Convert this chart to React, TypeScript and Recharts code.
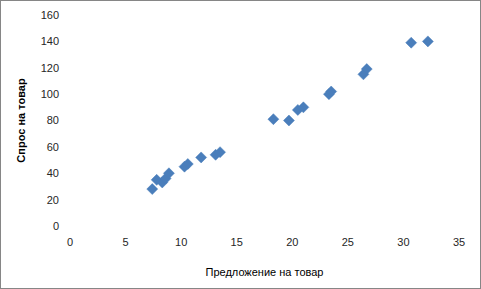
import { ScatterChart, Scatter, XAxis, YAxis } from 'recharts';

const supply = [7.4, 7.8, 8.3, 8.6, 8.9, 10.3, 10.6, 11.8, 13.1, 13.5, 18.3, 19.7, 20.5, 21.0, 23.3, 23.5, 26.4, 26.7, 30.7, 32.2];
const demand = [28, 35, 33, 36, 40, 45, 47, 52, 54, 56, 81, 80, 88, 90, 100, 102, 115, 119, 139, 140];
const xTicks = [0, 5, 10, 15, 20, 25, 30, 35];
const yTicks = [0, 20, 40, 60, 80, 100, 120, 140, 160];

const points = supply.map((x, i) => ({ x, y: demand[i] }));

const font = '"Liberation Sans", Arial, sans-serif';

// excel style diamond marker
const Diamond = (props: any) => {
  const { cx, cy } = props;
  const r = 5.5;
  return (
    <polygon
      points={`${cx},${cy - r} ${cx + r},${cy} ${cx},${cy + r} ${cx - r},${cy}`}
      fill='#4a7ebb'
      stroke='#4a7ebb'
      strokeWidth={0.5}
    />
  );
};

export default function App() {
  return (
    <div
      style={{
        position: 'fixed',
        left: 0,
        top: 0,
        width: 481,
        height: 289,
        border: '1px solid #868686',
        boxSizing: 'border-box',
        background: '#fff',
      }}
    >
      <ScatterChart
        width={479}
        height={287}
        margin={{ top: 14, right: 21, bottom: 0, left: 0 }}
        style={{ fontFamily: font }}
      >
        <XAxis
          type='number'
          dataKey='x'
          domain={[0, 35]}
          ticks={xTicks}
          axisLine={false}
          tickLine={false}
          tickSize={0}
          tickMargin={12}
          height={62}
          tick={{ fontSize: 11, fill: '#262626' }}
          label={{
            value: 'Предложение на товар',
            position: 'insideBottom',
            offset: 12,
            style: { fontSize: 11, fill: '#000' },
          }}
        />
        <YAxis
          type='number'
          dataKey='y'
          domain={[0, 160]}
          ticks={yTicks}
          axisLine={false}
          tickLine={false}
          tickSize={0}
          tickMargin={11}
          width={69}
          tick={{ fontSize: 11, fill: '#262626' }}
          label={{
            value: 'Спрос на товар',
            angle: -90,
            position: 'insideLeft',
            offset: 20,
            style: { fontSize: 11, fontWeight: 'bold', fill: '#000', textAnchor: 'middle' },
          }}
        />
        <Scatter data={points} shape={<Diamond />} isAnimationActive={false} />
      </ScatterChart>
    </div>
  );
}
